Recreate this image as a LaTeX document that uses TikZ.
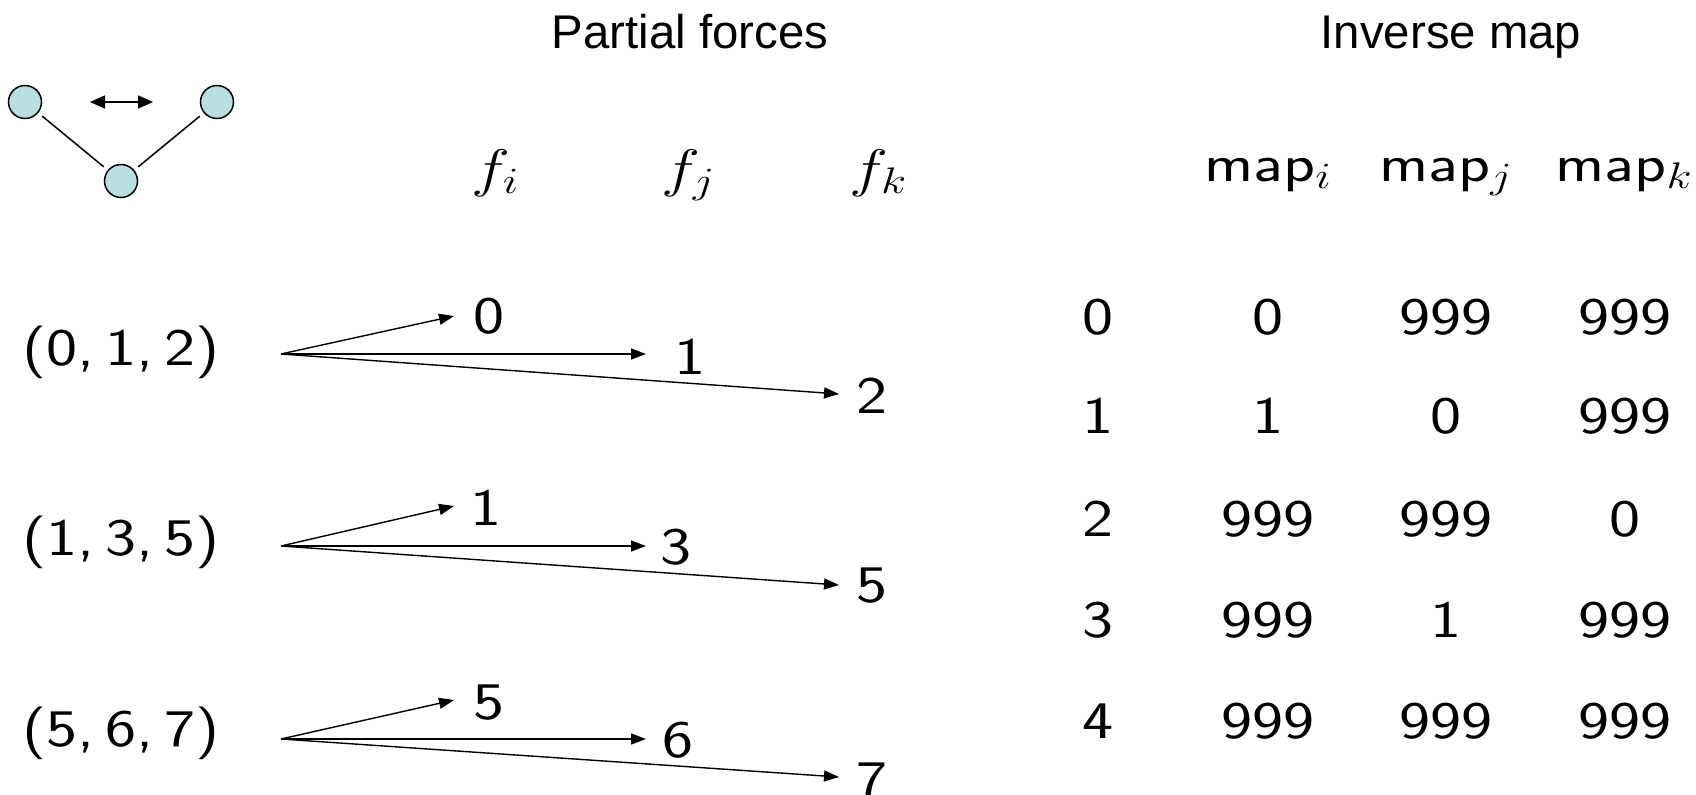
\RequirePackage{fix-cm}
\documentclass[tikz,border=0pt]{standalone}
\usepackage{fontspec}
\usepackage{graphicx}
\newfontfamily\arialf{Liberation Sans}
\usetikzlibrary{arrows.meta}
\newcommand{\sx}[1]{\scalebox{1.25}[1]{#1}}
\definecolor{atom}{HTML}{B8DFE0}
\begin{document}
\begin{tikzpicture}[x=1bp,y=-1bp,
  ttl/.style={font=\arialf\fontsize{47.5}{52}\selectfont, inner sep=0, anchor=base},
  lbl/.style={font=\sffamily\fontsize{53}{60}\selectfont, inner sep=0},
  atm/.style={circle, draw, fill=atom, line width=1.5bp, minimum size=33bp, inner sep=0},
  link/.style={line width=1.5bp, shorten <=5bp, shorten >=5bp},
  farrow/.style={line width=1.4bp, -{Triangle[length=15bp,width=11bp]}},
  dblarrow/.style={line width=1.5bp, {Triangle[length=15bp,width=13bp]}-{Triangle[length=15bp,width=13bp]}}]
\useasboundingbox (0,0) rectangle (1696,795);

% titles
\node[ttl] (t1) at (690,49) {Partial forces};
\node[ttl] (t2) at (1451,49) {Inverse map};

% small network
\node[atm] (c1) at (25,102) {};
\node[atm] (c2) at (217,102) {};
\node[atm] (c3) at (121,181) {};
\draw[link] (c1) -- (c3);
\draw[link] (c2) -- (c3);
\coordinate (d1) at (90,102);
\coordinate (d2) at (153,102);
\draw[dblarrow] (d1) -- (d2);

% column headers
\node[lbl, anchor=base] (fi) at (495,186) {\sx{$f_i$}};
\node[lbl, anchor=base] (fj) at (688,186) {\sx{$f_j$}};
\node[lbl, anchor=base] (fk) at (878,186) {\sx{$f_k$}};
\node[lbl, anchor=base] (mi) at (1268,181) {\sx{map$_i$}};
\node[lbl, anchor=base] (mj) at (1446,181) {\sx{map$_j$}};
\node[lbl, anchor=base] (mk) at (1624,181) {\sx{map$_k$}};

% tuples
\node[lbl] (r1) at (121,352) {\sx{(0,\,1,\,2)}};
\node[lbl] (r2) at (121,542) {\sx{(1,\,3,\,5)}};
\node[lbl] (r3) at (121,733) {\sx{(5,\,6,\,7)}};

% row 1
\coordinate (o1) at (281,354);
\coordinate (e11) at (454,316);
\coordinate (e12) at (646,354);
\coordinate (e13) at (839,394);
\node[lbl] (l11) at (489,316) {\sx{0}};
\node[lbl] (l12) at (690,357) {\sx{1}};
\node[lbl] (l13) at (872,396) {\sx{2}};
\draw[farrow] (o1) -- (e11);
\draw[farrow] (o1) -- (e12);
\draw[farrow] (o1) -- (e13);

% row 2
\coordinate (o2) at (281,546);
\coordinate (e21) at (454,506);
\coordinate (e22) at (646,546);
\coordinate (e23) at (839,585);
\node[lbl] (l21) at (486,508) {\sx{1}};
\node[lbl] (l22) at (676,547) {\sx{3}};
\node[lbl] (l23) at (872,586) {\sx{5}};
\draw[farrow] (o2) -- (e21);
\draw[farrow] (o2) -- (e22);
\draw[farrow] (o2) -- (e23);

% row 3
\coordinate (o3) at (281,739);
\coordinate (e31) at (454,700);
\coordinate (e32) at (646,739);
\coordinate (e33) at (839,777);
\node[lbl] (l31) at (489,703) {\sx{5}};
\node[lbl] (l32) at (678,740) {\sx{6}};
\node[lbl] (l33) at (872,780) {\sx{7}};
\draw[farrow] (o3) -- (e31);
\draw[farrow] (o3) -- (e32);
\draw[farrow] (o3) -- (e33);

% inverse map table
\foreach \r/\y/\a/\b/\c in {0/317/0/999/999, 1/416/1/0/999, 2/519/999/999/0, 3/620/999/1/999, 4/721/999/999/999}{
  \node[lbl] (idx\r) at (1098,\y) {\sx{\r}};
  \node[lbl] (vi\r) at (1268,\y) {\sx{\a}};
  \node[lbl] (vj\r) at (1446,\y) {\sx{\b}};
  \node[lbl] (vk\r) at (1625,\y) {\sx{\c}};
}
\end{tikzpicture}
\end{document}
